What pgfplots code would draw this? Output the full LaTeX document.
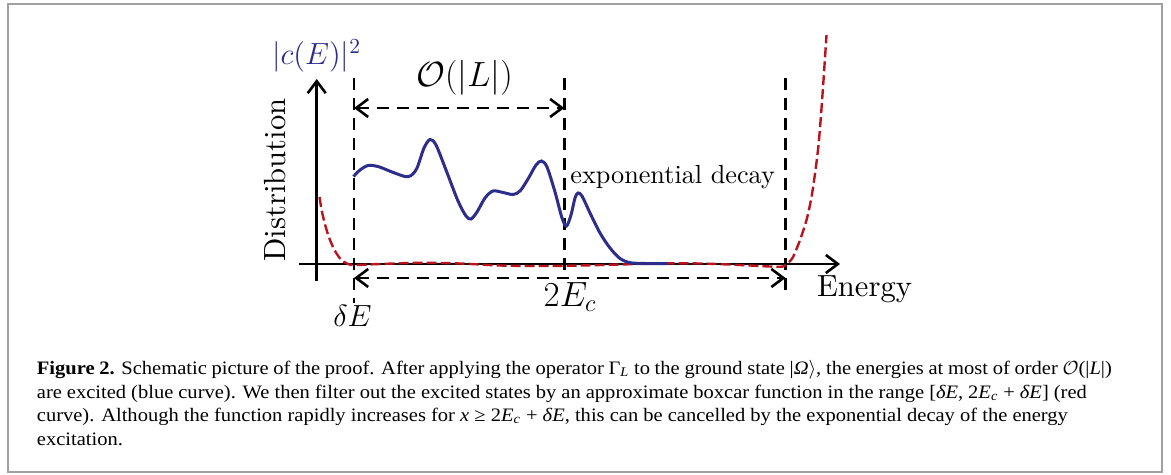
\RequirePackage{fix-cm}
\documentclass[border=0pt]{standalone}
\usepackage{fontspec}
\usepackage{pgfplots}
\pgfplotsset{compat=1.18}
\usetikzlibrary{arrows.meta}
\newfontfamily\capfont[FakeStretch=1.08]{Liberation Serif}
\newfontfamily\figfont{lmroman10-regular.otf}
\definecolor{curveblue}{RGB}{45,45,140}
\definecolor{curvered}{RGB}{185,20,30}
\definecolor{framegray}{RGB}{160,160,160}

\begin{document}
\begin{tikzpicture}[
    dashline/.style={black, line width=1.3pt, dash pattern=on 6pt off 4pt},
  ]
\begin{axis}[
    width=585.5pt, height=237.5pt, scale only axis,
    xmin=0, xmax=1171, ymin=0, ymax=475, y dir=reverse,
    hide axis, clip=false,
  ]
  \coordinate (bbA) at (0,0);
  \coordinate (bbB) at (1171,475);
  % background and frame
  \fill[white] (0,0) rectangle (1171,475);
  \draw[framegray, line width=1pt] (8,4) rectangle (1162,472);

  % axes
  \draw[line width=1.3pt, -{Straight Barb[length=6pt,width=9pt]}] (299,264) -- (840,264);
  \draw[line width=1.3pt, -{Straight Barb[length=6pt,width=9pt]}] (316.7,281) -- (316.7,79);

  % dashed guides
  \draw[dashline] (354,78) -- (354,303);
  \draw[dashline] (564.3,78) -- (564.3,276);
  \draw[dashline] (785.5,78) -- (785.5,296);
  \draw[dashline, {Straight Barb[length=6pt,width=9pt]}-{Straight Barb[length=6pt,width=9pt]}] (354,108) -- (564.3,108);
  \draw[dashline, {Straight Barb[length=6pt,width=9pt]}-{Straight Barb[length=6pt,width=9pt]}] (354,278) -- (785.5,278);

  % filter (red)
  \addplot[curvered, line width=1.2pt, dash pattern=on 5pt off 2pt, smooth] coordinates {
    (319.5,197) (322,212) (326,228) (330,240) (335,251) (341,259.5) (347,263.5)
    (354,265) (380,264) (420,262.8) (460,263.5) (500,265.5) (540,266) (580,265.5)
    (620,264.5) (660,263.5) (700,263.5) (740,265) (770,266.5) (783,266.5)
    (788,263) (793,257) (800,240) (806.5,220) (811.5,197) (815.5,170)
    (818.5,145) (821,115) (823.5,80) (826.5,35)
  };

  % distribution (blue)
  \addplot[curveblue, line width=1.5pt, smooth] coordinates {
    (353.5,176.5) (360,170) (368,165.5) (378,166.5) (392,172) (405,176.5)
    (411,175.5) (417,168) (424,148) (430,139.5) (436,145) (446,170)
    (458,201) (466,216) (471,219) (477,212) (485,198) (493,191)
    (503,192.5) (513,194.5) (520,191) (528,179) (536,165) (541.5,161)
    (547,167) (555,192) (562,218) (566.5,226) (571,215) (575,198)
    (578,193) (582,196) (590,213) (600,233) (610,248) (620,258.5)
    (630,262.7) (645,263.5) (667,263.5)
  };

  % labels
  \node[anchor=base west, inner sep=0, text=curveblue, font=\fontsize{15.3}{18}\selectfont] at (271.7,64.5) {$|c(E)|^2$};
  \node[anchor=base west, inner sep=0, font=\fontsize{17.5}{21}\selectfont] at (416,86.5) {$\mathcal{O}(|L|)$};
  \node[anchor=base, rotate=90, inner sep=0, font=\figfont\fontsize{15.3}{18}\selectfont] at (285,180) {Distribution};
  \node[anchor=base west, inner sep=0, font=\figfont\fontsize{13.1}{15}\selectfont] at (570,183.3) {exponential decay};
  \node[anchor=base west, inner sep=0, font=\figfont\fontsize{15.3}{18}\selectfont] at (816.7,296.7) {Energy};
  \node[anchor=base, inner sep=0, font=\fontsize{15.3}{18}\selectfont] at (352.5,327) {$\delta E$};
  \node[anchor=base west, inner sep=0, font=\fontsize{17.5}{21}\selectfont] at (543.3,306.7) {$2E_c$};

  % caption
  \node[anchor=base west, inner sep=0, font=\capfont\fontsize{9.5}{11}\selectfont] at (36.5,374.5) {\makebox[537.5pt][s]{\textbf{Figure 2.} Schematic picture of the proof. After applying the operator Γ\textsubscript{\textit{L}} to the ground state |\textit{Ω}$\rangle$, the energies at most of order $\mathcal{O}$(|\textit{L}|)}};
  \node[anchor=base west, inner sep=0, font=\capfont\fontsize{9.5}{11}\selectfont] at (36.5,398.2) {\makebox[525pt][s]{are excited (blue curve). We then filter out the excited states by an approximate boxcar function in the range [\textit{δE}, 2\textit{E}\textsubscript{\textit{c}} + \textit{δE}] (red}};
  \node[anchor=base west, inner sep=0, font=\capfont\fontsize{9.5}{11}\selectfont] at (36.5,421.7) {\makebox[515.5pt][s]{curve). Although the function rapidly increases for \textit{x} ≥ 2\textit{E}\textsubscript{\textit{c}} + \textit{δE}, this can be cancelled by the exponential decay of the energy}};
  \node[anchor=base west, inner sep=0, font=\capfont\fontsize{9.5}{11}\selectfont] at (36.5,445) {excitation.};
\end{axis}
\pgfresetboundingbox
\path[use as bounding box] (bbA) rectangle (bbB);
\end{tikzpicture}
\end{document}
